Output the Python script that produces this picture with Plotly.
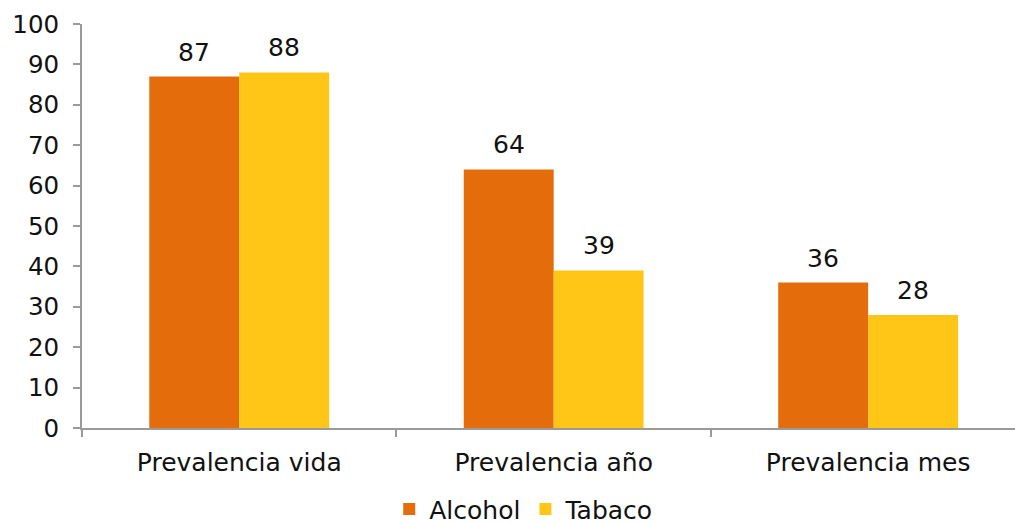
import plotly.graph_objects as go

categorias = ["Prevalencia vida", "Prevalencia año", "Prevalencia mes"]
alcohol = [87, 64, 36]
tabaco = [88, 39, 28]
y_ticks = [0, 10, 20, 30, 40, 50, 60, 70, 80, 90, 100]

FONT = "DejaVu Sans, Noto Sans, sans-serif"
TEXT_COLOR = "#111111"
AXIS_COLOR = "#9a9a9a"
FS = 25

fig = go.Figure()
fig.add_trace(go.Bar(name="Alcohol", x=categorias, y=alcohol,
                     marker_color="#E46C0A", offsetgroup="a"))
fig.add_trace(go.Bar(name="Tabaco", x=categorias, y=tabaco,
                     marker_color="#FFC618", offsetgroup="b"))
fig.update_traces(marker_line_width=0)

# value labels above each bar
for i, cat in enumerate(categorias):
    for val, shift in ((alcohol[i], -0.143), (tabaco[i], 0.143)):
        fig.add_annotation(
            x=i + shift, y=val, xref="x", yref="y",
            text=str(val), showarrow=False, yanchor="bottom", yshift=8,
            font=dict(size=FS, family=FONT, color=TEXT_COLOR),
        )

fig.update_layout(
    width=1015, height=524,
    margin=dict(l=82, r=0, t=24, b=96),
    paper_bgcolor="white", plot_bgcolor="white",
    barmode="group", bargap=0.428, bargroupgap=0,
    font=dict(family=FONT, size=FS, color=TEXT_COLOR),
    showlegend=True,
    legend=dict(
        orientation="h", xref="container", yref="container",
        x=0.516, xanchor="center", y=0.028, yanchor="middle",
        font=dict(size=FS, family=FONT, color=TEXT_COLOR),
        traceorder="normal", itemwidth=30,
    ),
)

fig.update_xaxes(
    type="category", range=[-0.5, 2.467],
    showline=True, linecolor=AXIS_COLOR, linewidth=2,
    ticks="outside", tickson="boundaries", ticklen=7, tickwidth=2,
    tickcolor=AXIS_COLOR, showgrid=False, ticklabelstandoff=11,
    tickfont=dict(size=FS, family=FONT, color=TEXT_COLOR),
)
fig.update_yaxes(
    range=[0, 100], tickvals=y_ticks,
    showline=True, linecolor=AXIS_COLOR, linewidth=2,
    ticks="outside", ticklen=7, tickwidth=2, tickcolor=AXIS_COLOR,
    showgrid=False, zeroline=False, ticklabelstandoff=9,
    tickfont=dict(size=24.5, family=FONT, color=TEXT_COLOR),
)

fig.write_html("out.html")
